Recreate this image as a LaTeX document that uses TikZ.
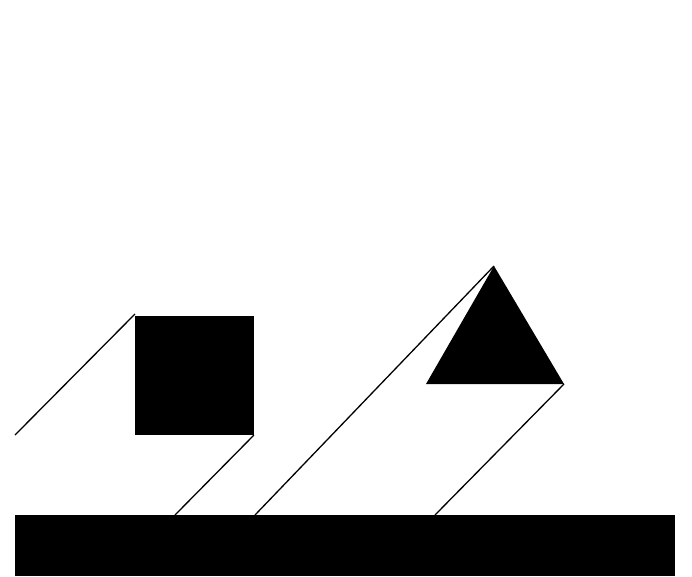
\documentclass[tikz,border=0pt]{standalone}
\begin{document}
\begin{tikzpicture}[x=1pt,y=-1pt,ln/.style={line width=1.3pt}]
\useasboundingbox (0,0) rectangle (692,576);
\fill[black] (15,515) rectangle (675,576);
\fill[black] (135,316) rectangle (254,435);
\fill[black] (494,266) -- (564,384) -- (426,384) -- cycle;
\draw[ln] (15,435) -- (135,314);
\draw[ln] (254,435) -- (175,515);
\draw[ln] (255,515) -- (494,266);
\draw[ln] (564,384) -- (435,515);
\end{tikzpicture}
\end{document}
